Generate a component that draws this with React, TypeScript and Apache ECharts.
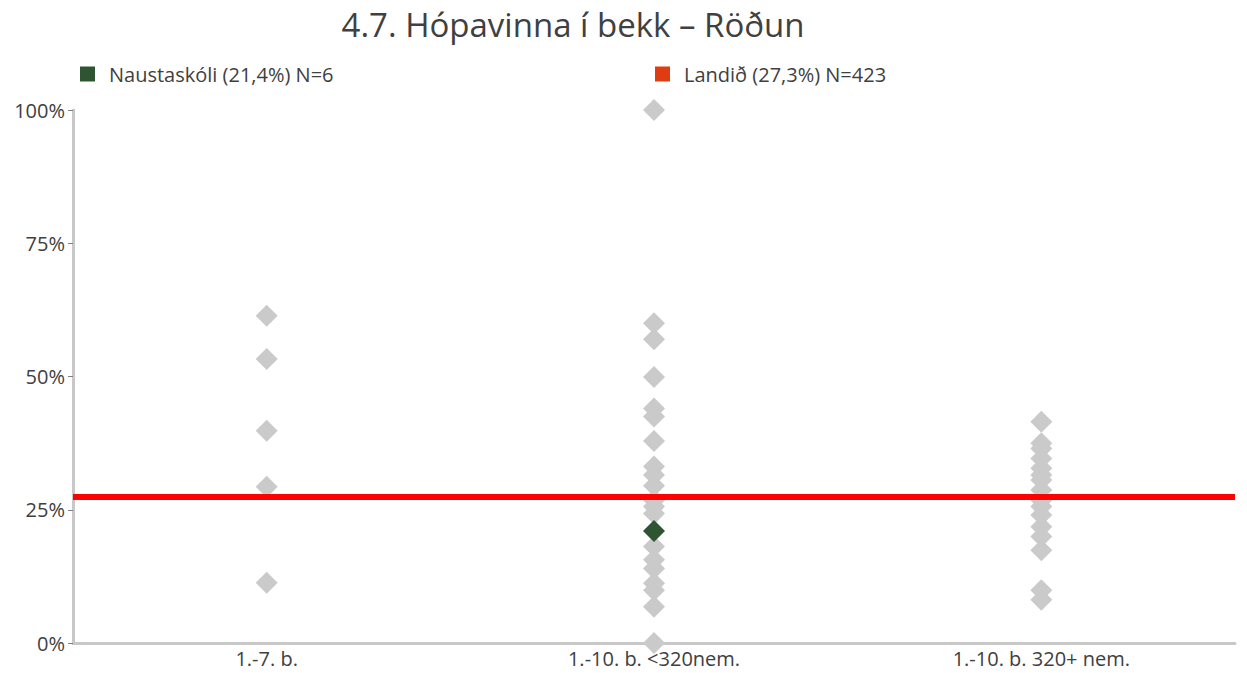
import React, { useEffect, useRef } from "react";
import * as echarts from "echarts";

const categories = ["1.-7. b.", "1.-10. b. <320nem.", "1.-10. b. 320+ nem."];
const yTicks = [0, 25, 50, 75, 100];

const othersSmall = [61.4, 53.3, 39.8, 29.3, 11.3];
const othersMid = [100, 60.0, 57.0, 49.9, 44.0, 42.5, 37.9, 33.1, 31.5, 29.5, 26.8, 25.6, 24.3, 18.1, 15.6, 14.0, 11.2, 9.9, 6.8, 0];
const othersLarge = [41.5, 37.5, 36.5, 34.6, 32.8, 31.5, 30.6, 28.7, 26.8, 25.6, 24.0, 21.8, 20.0, 17.4, 9.9, 8.1];

const schoolName = "Naustaskóli (21,4%) N=6";
const schoolCategory = 1;
const schoolValue = 21.0;

const nationName = "Landið (27,3%) N=423";
const nationValue = 27.5;

const FONT = "'Open Sans', Lato, sans-serif";

export default function App() {
  const ref = useRef<HTMLDivElement>(null);
  useEffect(() => {
    if (!ref.current) return;
    const chart = echarts.init(ref.current, undefined, { renderer: "svg" });
    const others: [number, number][] = [];
    othersSmall.forEach((v) => others.push([0, v]));
    othersMid.forEach((v) => others.push([1, v]));
    othersLarge.forEach((v) => others.push([2, v]));

    chart.setOption({
      animation: false,
      backgroundColor: "#ffffff",
      textStyle: { fontFamily: FONT },
      title: {
        text: "4.7. Hópavinna í bekk – Röðun",
        left: 568,
        textAlign: "center",
        top: 3,
        textStyle: { fontFamily: FONT, fontSize: 33, fontWeight: "normal", color: "#404040" },
      },
      legend: [
        {
          left: 75,
          top: 59,
          itemWidth: 15,
          itemHeight: 15,
          icon: "rect",
          data: [{ name: schoolName, itemStyle: { color: "#2F5432" } }],
          textStyle: { fontFamily: FONT, fontSize: 20, color: "#404040", padding: [0, 0, 0, 9] },
        },
        {
          left: 650,
          top: 59,
          itemWidth: 15,
          itemHeight: 15,
          icon: "rect",
          data: [{ name: nationName, itemStyle: { color: "#E03C12" } }],
          textStyle: { fontFamily: FONT, fontSize: 20, color: "#404040", padding: [0, 0, 0, 9] },
        },
      ],
      grid: { left: 73, right: 12, top: 110, bottom: 30, containLabel: false },
      xAxis: {
        type: "category",
        data: categories,
        boundaryGap: true,
        axisLine: { lineStyle: { color: "#C8C8C8", width: 3 } },
        axisTick: { show: false },
        axisLabel: { fontFamily: FONT, fontSize: 20, color: "#404040", margin: 5 },
        splitLine: { show: false },
      },
      yAxis: {
        type: "value",
        min: yTicks[0],
        max: yTicks[yTicks.length - 1],
        interval: 25,
        axisLine: { show: true, lineStyle: { color: "#C8C8C8", width: 3 } },
        axisTick: { show: true, length: 5, lineStyle: { color: "#808080", width: 1 } },
        axisLabel: { fontFamily: FONT, fontSize: 20, color: "#404040", formatter: "{value}%", margin: 8 },
        splitLine: { show: false },
      },
      series: [
        {
          name: "others",
          type: "scatter",
          symbol: "diamond",
          symbolSize: 22,
          itemStyle: { color: "#CACACA", opacity: 1 },
          data: others,
          z: 2,
        },
        {
          name: nationName,
          type: "line",
          data: [],
          itemStyle: { color: "#E03C12" },
          markLine: {
            symbol: "none",
            silent: true,
            label: { show: false },
            lineStyle: { color: "#FF0000", width: 6, type: "solid" },
            data: [{ yAxis: nationValue }],
          },
          z: 3,
        },
        {
          name: schoolName,
          type: "scatter",
          symbol: "diamond",
          symbolSize: 22,
          itemStyle: { color: "#2F5432", opacity: 1 },
          data: [[schoolCategory, schoolValue]],
          z: 4,
        },
      ],
    });
    return () => chart.dispose();
  }, []);
  return <div ref={ref} style={{ width: 1247, height: 673, position: "fixed", left: 0, top: 0 }} />;
}
